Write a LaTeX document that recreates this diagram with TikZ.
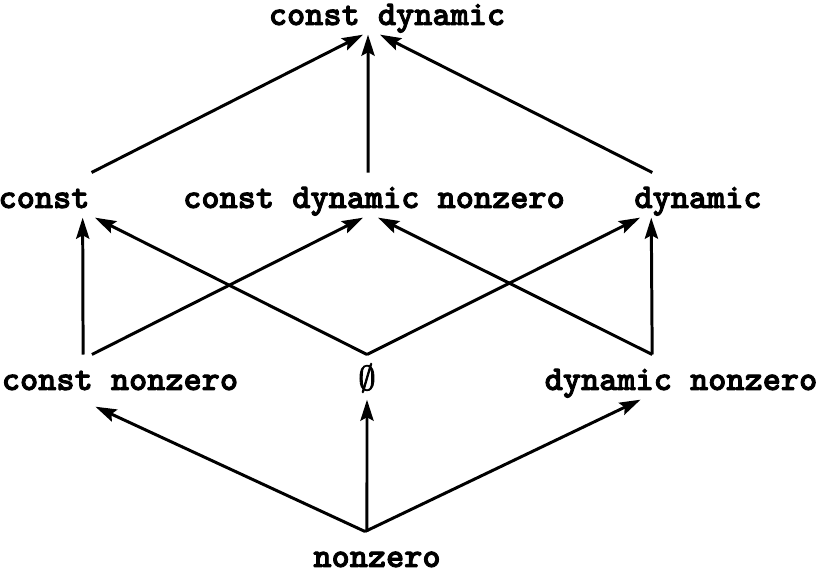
\documentclass[tikz,border=0pt]{standalone}
\usepackage{fontspec}
\usepackage{tikz}
\usetikzlibrary{arrows.meta}
\newfontfamily\darktt{lmmonolt10-bold.otf}[FakeBold=2.5]
\newfontfamily\darksym{latinmodern-math.otf}[FakeBold=2.5]

\begin{document}
\begin{tikzpicture}[x=0.02cm,y=-0.02cm,
lbl/.style={font=\fontsize{19.7}{24}\selectfont\darktt,inner sep=1pt,text height=19pt,text depth=4.3pt,anchor=base},
up/.style={-{Stealth[length=12pt,width=7.5pt,inset=2pt]},line width=1.7pt}]
\useasboundingbox(0,0)rectangle(819,573);
\node[lbl](cd)at(387,25){const dynamic};
\node[lbl](c)at(44,208){const};
\node[lbl](cdn)at(374,208){const dynamic nonzero};
\node[lbl](d)at(698,208){dynamic};
\node[lbl](cn)at(120,390){const nonzero};
\node[lbl](e)at(367,390){\darksym ∅};
\node[lbl](dn)at(681,390){dynamic nonzero};
\node[lbl](nz)at(377,567){nonzero};
\draw[up](c.north east)--([xshift=-13.6pt]cd.south);
\draw[up]([xshift=-3.4pt]cdn.north)--([xshift=-10.8pt]cd.south);
\draw[up]([xshift=-26pt]d.north)--([xshift=-4pt]cd.south);
\draw[up]([xshift=-21pt]cn.north)--([xshift=22pt]c.south);
\draw[up]([xshift=-16pt]cn.north)--([xshift=-6.2pt]cdn.south);
\draw[up](e.north)--([xshift=29pt]c.south);
\draw[up](e.north)--([xshift=-33pt]d.south);
\draw[up]([xshift=-16.4pt]dn.north)--([xshift=2.3pt]cdn.south);
\draw[up]([xshift=-16.4pt]dn.north)--([xshift=-26.6pt]d.south);
\draw[up]([xshift=-6.8pt]nz.north)--([xshift=-14pt,yshift=-4pt]cn.south);
\draw[up]([xshift=-5.7pt]nz.north)--(e.south);
\draw[up]([xshift=-6.8pt]nz.north)--([xshift=-23pt]dn.south);
\end{tikzpicture}
\end{document}
